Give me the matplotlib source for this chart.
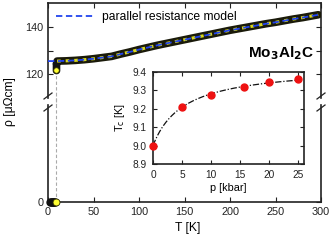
import numpy as np
import matplotlib
matplotlib.use("Agg")
import matplotlib.pyplot as plt

plt.rcParams['font.family'] = ['Liberation Sans', 'DejaVu Sans']

# ---- data ----
T_data = [10, 20, 30, 40, 50, 60, 70, 80, 90, 100, 110, 120, 130, 140, 150,
          160, 170, 180, 190, 200, 210, 220, 230, 240, 250, 260, 270, 280, 290, 297]
rho_data = [125.5, 125.6, 125.8, 126.1, 126.5, 127.0, 127.5, 128.5, 129.4, 130.4,
            131.3, 132.2, 133.0, 133.8, 134.6, 135.4, 136.2, 137.0, 137.8, 138.6,
            139.3, 140.0, 140.7, 141.4, 142.0, 142.7, 143.4, 144.0, 144.7, 145.2]
T_trans = [8.6, 8.8, 9.0, 9.1, 9.2, 9.4]
rho_trans = [121.8, 122.5, 123.3, 124.1, 124.8, 125.3]
T_zero = [2, 3, 4, 5, 6, 7, 8]
rho_zero = [0, 0, 0, 0, 0, 0, 0]
T_model = [0, 9, 10, 20, 30, 40, 50, 60, 70, 80, 90, 100, 110, 120, 130, 140, 150,
           160, 170, 180, 190, 200, 210, 220, 230, 240, 250, 260, 270, 280, 290, 300]
rho_model = [125.5, 125.5, 125.5, 125.6, 125.8, 126.1, 126.5, 127.0, 127.5, 128.5,
             129.4, 130.4, 131.3, 132.2, 133.0, 133.8, 134.6, 135.4, 136.2, 137.0,
             137.8, 138.6, 139.3, 140.0, 140.7, 141.4, 142.0, 142.7, 143.4, 144.0,
             144.7, 145.4]
Tc_line = 8.9
p_kbar = [0, 5, 10, 15.6, 20, 25]
Tc_K = [9.00, 9.21, 9.276, 9.318, 9.343, 9.363]

W, H = 333, 244
fig = plt.figure(figsize=(W / 100, H / 100), dpi=100)

def fx(px):
    return px / W

def fy(py):
    return 1 - py / H

L, R = 48, 321
ax_top = fig.add_axes([fx(L), fy(98), fx(R - L), fy(3) - fy(98)])
ax_bot = fig.add_axes([fx(L), fy(202), fx(R - L), fy(105) - fy(202)])

for ax in (ax_top, ax_bot):
    ax.set_xlim(0, 300)
    for s in ax.spines.values():
        s.set_linewidth(1.2)
        s.set_color('#222222')
    ax.tick_params(direction='in', length=3.5, width=0.8, labelsize=7.8,
                   colors='#222222', pad=3.5)
    ax.set_xticks([0, 50, 100, 150, 200, 250, 300])

ax_top.set_ylim(109.8, 150.2)
ax_top.set_yticks([120, 130, 140])
ax_top.set_yticklabels(['120', '', '140'])
ax_top.spines['bottom'].set_visible(False)
ax_top.tick_params(bottom=False, labelbottom=False, top=True, right=True)
ax_bot.set_ylim(0, 41)
ax_bot.set_yticks([0])
ax_bot.spines['top'].set_visible(False)
ax_bot.tick_params(top=False, right=True)

# data band
ax_top.plot(T_model, rho_model, color='#2244ee', lw=1.3, ls=(0, (3.5, 2.0)),
            zorder=5, label='parallel resistance model')
ax_top.plot(T_data, rho_data, color='#1a1a0a', lw=5.5, solid_capstyle='round', zorder=3)
ax_top.plot(T_data, rho_data, color='#d8d820', lw=2.2, ls=(0, (1.2, 1.6)), zorder=4)
ax_top.plot(T_trans, rho_trans, 'o', color='#111111', ms=4.5, zorder=3)
ax_top.plot([Tc_line], [rho_trans[0]], 'o', mfc='#ffff33', mec='#333300',
            ms=4, mew=0.6, zorder=4)
ax_top.plot([Tc_line, Tc_line], [rho_trans[0], 100], color='#aaaaaa', lw=0.8,
            ls=(0, (3, 2)), clip_on=False, zorder=1)

ax_bot.plot([Tc_line, Tc_line], [0, 45], color='#aaaaaa', lw=0.8,
            ls=(0, (3, 2)), clip_on=False, zorder=1)
ax_bot.plot(T_zero, rho_zero, 'o', color='#111111', ms=5, clip_on=False, zorder=3)
ax_bot.plot([Tc_line], [0], 'o', mfc='#ffff33', mec='#333300', ms=5, mew=0.6,
            clip_on=False, zorder=4)

leg = ax_top.legend(loc='upper left', frameon=False, fontsize=8.7,
                    handlelength=3.2, borderaxespad=0.3, handletextpad=0.6)

ax_top.text(0.975, 0.47, r'Mo$_\mathbf{3}$Al$_\mathbf{2}$C', transform=ax_top.transAxes,
            ha='right', va='center', fontsize=11, fontweight='bold')

# break marks
for xp in (L, R):
    for yp in (96, 108):
        fig.add_artist(plt.Line2D([fx(xp - 4), fx(xp + 4)], [fy(yp + 3), fy(yp - 3)],
                                  color='#222222', lw=0.9))

fig.text(fx(10), fy(102), 'ρ [μΩcm]', rotation=90, ha='center',
         va='center', fontsize=8.7)
fig.text(fx(188), fy(228), 'T [K]', ha='center', va='center', fontsize=8.7)

# inset
ax_in = fig.add_axes([fx(153), fy(164), fx(304 - 153), fy(72) - fy(164)])
ax_in.set_xlim(0, 26)
ax_in.set_ylim(8.9, 9.4)
ax_in.set_xticks([0, 5, 10, 15, 20, 25])
ax_in.set_yticks([8.9, 9.0, 9.1, 9.2, 9.3, 9.4])
ax_in.set_yticklabels(['8.9', '9.0', '9.1', '9.2', '9.3', '9.4'])
for s in ax_in.spines.values():
    s.set_linewidth(1.2)
    s.set_color('#222222')
ax_in.tick_params(direction='in', length=3, width=0.8, labelsize=7.3,
                  top=True, right=True, colors='#222222', pad=4.5)

# saturation fit Tc = Tc0 + A p / (p + B), linearised on data
p_arr = np.array(p_kbar, dtype=float)
t_arr = np.array(Tc_K, dtype=float)
Tc0 = t_arr[0]
m = p_arr > 0
slope, icpt = np.polyfit(1 / p_arr[m], 1 / (t_arr[m] - Tc0), 1)
A = 1 / icpt
B = slope * A
pf = np.linspace(0, 25, 200)
ax_in.plot(pf, Tc0 + A * pf / (pf + B), color='#111111', lw=0.9,
           ls=(0, (5, 1.5, 1, 1.5)))
ax_in.plot(p_kbar, Tc_K, 'o', color='#ee1111', ms=5, clip_on=False, zorder=5)
ax_in.set_xlabel('p [kbar]', fontsize=7.8, labelpad=2)
ax_in.set_ylabel('T$_\\mathrm{c}$ [K]', fontsize=7.8, labelpad=4)

fig.savefig('out.png', dpi=100)
